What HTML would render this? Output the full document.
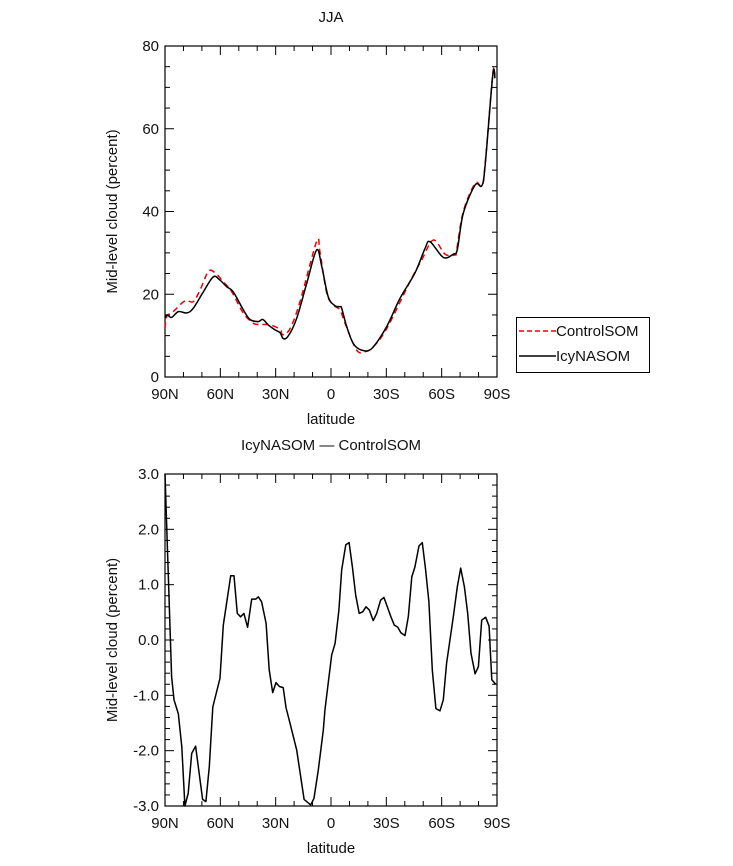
<!DOCTYPE html>
<html><head><meta charset="utf-8"><style>
body{margin:0;background:#fff}
svg{display:block;font-family:"Liberation Sans",sans-serif}
text{fill:#111}
</style></head><body>
<svg id="c" width="733" height="866"></svg>
<script>
const latTicks=[90,60,30,0,-30,-60,-90];
const latLabels=["90N","60N","30N","0","30S","60S","90S"];
const topTicks=[0,20,40,60,80];
const botTicks=[-3,-2,-1,0,1,2,3];
const botLabels=["-3.0","-2.0","-1.0","0.0","1.0","2.0","3.0"];
const ctrlLat=[90,89.1,85.5,79.2,74.7,71.0,66.5,62.9,58.4,53.8,47.5,42.1,38.5,33.1,27.6,26.2,22.2,16.8,7.8,6.0,2.3,-1.3,-4.9,-7.6,-13.9,-18.4,-22.9,-30.2,-42.8,-49.2,-55.5,-61.8,-67.2,-68.1,-71.7,-78.1,-81.7,-83.5,-87.7,-88.9];
const ctrlVal=[11.8,14.6,15.8,18.4,18.2,21.0,25.5,25.2,23.0,20.6,15.4,13.0,12.7,12.6,11.5,10.2,11.7,18.2,32.7,30.3,20.2,17.4,16.2,13.0,6.5,6.1,7.3,11.7,23.0,28.3,33.1,29.7,29.5,30.7,39.9,46.8,46.2,51.2,73.2,72.7];
const icyLat=[90,88.8,86.4,82.8,78.2,74.7,69.2,63.8,60.2,56.5,53.0,47.5,43.9,39.4,37.0,34.0,30.4,27.6,25.9,23.2,18.6,13.2,7.8,5.0,1.5,-2.2,-4.9,-5.8,-8.5,-12.1,-16.6,-22.1,-30.2,-37.4,-45.5,-51.0,-53.7,-60.9,-66.3,-68.5,-71.7,-78.1,-81.7,-83.5,-87.7,-88.9];
const icyVal=[14.2,15.0,14.4,15.8,15.5,16.6,20.6,24.2,23.4,21.8,20.6,16.2,13.9,13.4,13.9,12.6,11.4,10.7,9.3,9.9,14.2,22.6,30.7,26.7,19.4,17.2,17.0,16.6,12.2,8.1,6.5,6.9,12.2,19.0,25.1,31.1,32.7,28.9,29.7,30.8,39.5,46.4,46.2,50.8,73.0,72.2];
const diffLat=[90,86.4,85.1,82.8,80.9,79.2,77.4,75.5,73.4,69.6,67.8,66.0,64.1,60.2,58.4,54.4,52.6,50.8,49.0,47.2,45.2,43.0,40.7,39.4,37.6,35.2,33.5,31.6,29.8,28.0,25.9,24.4,22.2,18.6,14.6,11.0,9.2,6.9,4.2,3.3,1.5,-0.4,-2.2,-4.3,-5.8,-8.0,-9.8,-11.6,-13.4,-15.3,-17.2,-19.0,-20.8,-22.9,-24.8,-26.9,-28.7,-30.5,-32.5,-34.3,-36.2,-37.9,-40.1,-41.9,-43.8,-45.5,-47.7,-49.5,-51.3,-53.1,-54.9,-56.9,-59.1,-60.9,-62.7,-66.3,-68.5,-70.3,-72.3,-74.1,-75.9,-78.1,-79.9,-81.7,-83.9,-85.7,-87.2,-89.3];
const diffVal=[3.0,-0.66,-1.08,-1.33,-1.93,-3.0,-2.77,-2.05,-1.92,-2.88,-2.92,-2.29,-1.21,-0.69,0.27,1.16,1.16,0.48,0.42,0.48,0.23,0.74,0.74,0.78,0.69,0.30,-0.54,-0.95,-0.77,-0.84,-0.86,-1.22,-1.51,-1.99,-2.88,-2.98,-2.86,-2.35,-1.63,-1.27,-0.78,-0.27,-0.06,0.54,1.27,1.72,1.76,1.32,0.81,0.48,0.51,0.60,0.54,0.35,0.48,0.72,0.77,0.60,0.42,0.27,0.23,0.13,0.08,0.42,1.14,1.32,1.70,1.76,1.27,0.69,-0.54,-1.24,-1.28,-1.08,-0.42,0.42,0.96,1.30,0.96,0.48,-0.24,-0.61,-0.48,0.36,0.41,0.25,-0.72,-0.80];

const svg=document.getElementById('c');
const NS='http://www.w3.org/2000/svg';
function mk(tag,attrs,parent){const e=document.createElementNS(NS,tag);for(const k in attrs)e.setAttribute(k,attrs[k]);(parent||svg).appendChild(e);return e;}
const X0=165,X1=497;
const xs=lat=>X0+(90-lat)/180*(X1-X0);

function panel(name,top,bot,ymin,ymax,ticks,labels,minorStep){
  const ys=v=>bot-(v-ymin)/(ymax-ymin)*(bot-top);
  const g=mk('g',{});
  
  
  for(let l=90;l>=-90;l-=10){const x=xs(l);const maj=l%30===0;const len=maj?9:5;
    mk('line',{x1:x,y1:bot,x2:x,y2:bot-len,stroke:'#000','stroke-width':1},g);
    mk('line',{x1:x,y1:top,x2:x,y2:top+len,stroke:'#000','stroke-width':1},g);}
  for(let v=ymin;v<=ymax+1e-6;v+=minorStep){const y=ys(v);const maj=ticks.some(t=>Math.abs(t-v)<1e-6);const len=maj?9:5;
    mk('line',{x1:X0,y1:y,x2:X0+len,y2:y,stroke:'#000','stroke-width':1},g);
    mk('line',{x1:X1,y1:y,x2:X1-len,y2:y,stroke:'#000','stroke-width':1},g);}
  mk('rect',{x:X0,y:top,width:X1-X0,height:bot-top,fill:'none',stroke:'#000','stroke-width':1.2},g);
  ticks.forEach((t,i)=>{const e=mk('text',{x:X0-6,y:ys(t)+5,'text-anchor':'end','font-size':15},g);e.textContent=labels[i];
    
    });
  latTicks.forEach((l,i)=>{const e=mk('text',{x:xs(l),y:bot+22,'text-anchor':'middle','font-size':15},g);e.textContent=latLabels[i];
    
    });
  const xt=mk('text',{x:331,y:bot+47,'text-anchor':'middle','font-size':15},g);xt.textContent='latitude';
  
  
  const cy=(top+bot)/2;
  const yt=mk('text',{x:117,y:cy,'text-anchor':'middle','font-size':15,transform:`rotate(-90 117 ${cy})`},g);yt.textContent='Mid-level cloud (percent)';
  
  
  return ys;
}
function line(lats,vals,ys,color,dash,name,smooth){
  const P=lats.map((l,i)=>[xs(l),ys(vals[i])]);
  let d='M'+P[0][0].toFixed(1)+','+P[0][1].toFixed(1);
  for(let i=0;i<P.length-1;i++){
    if(!smooth){d+='L'+P[i+1][0].toFixed(1)+','+P[i+1][1].toFixed(1);continue;}
    const p0=P[Math.max(i-1,0)],p1=P[i],p2=P[i+1],p3=P[Math.min(i+2,P.length-1)];
    const c1=[p1[0]+(p2[0]-p0[0])/6,p1[1]+(p2[1]-p0[1])/6];
    const c2=[p2[0]-(p3[0]-p1[0])/6,p2[1]-(p3[1]-p1[1])/6];
    d+='C'+c1.map(v=>v.toFixed(1)).join(',')+' '+c2.map(v=>v.toFixed(1)).join(',')+' '+p2.map(v=>v.toFixed(1)).join(',');
  }
  const p=mk('path',{d:d,fill:'none',stroke:color,'stroke-width':1.5,'stroke-dasharray':dash||'none','stroke-linejoin':'round'});
  
  
}
let t=mk('text',{x:331,y:22,'text-anchor':'middle','font-size':15});t.textContent='JJA';


const ysTop=panel('top-panel',46,377,0,80,topTicks,topTicks.map(String),5);
line(ctrlLat,ctrlVal,ysTop,'#e00','6,4','controlsom-line',true);
line(icyLat,icyVal,ysTop,'#000',null,'icynasom-line',true);
t=mk('text',{x:331,y:450,'text-anchor':'middle','font-size':15});t.textContent='IcyNASOM \u2014 ControlSOM';


const ysBot=panel('bottom-panel',474,806,-3,3,botTicks,botLabels,0.2);
line(diffLat,diffVal,ysBot,'#000',null,'difference-line',false);
const lg=mk('g',{});


mk('rect',{x:516.5,y:317.5,width:133,height:55,fill:'#fff',stroke:'#000','stroke-width':1},lg);
mk('line',{x1:519,y1:331,x2:556,y2:331,stroke:'#e00','stroke-width':1.5,'stroke-dasharray':'5,3'},lg);
mk('line',{x1:519,y1:356,x2:556,y2:356,stroke:'#000','stroke-width':1.5},lg);
t=mk('text',{x:556,y:336,'font-size':15},lg);t.textContent='ControlSOM';


t=mk('text',{x:556,y:361,'font-size':15},lg);t.textContent='IcyNASOM';


</script>
</body></html>
